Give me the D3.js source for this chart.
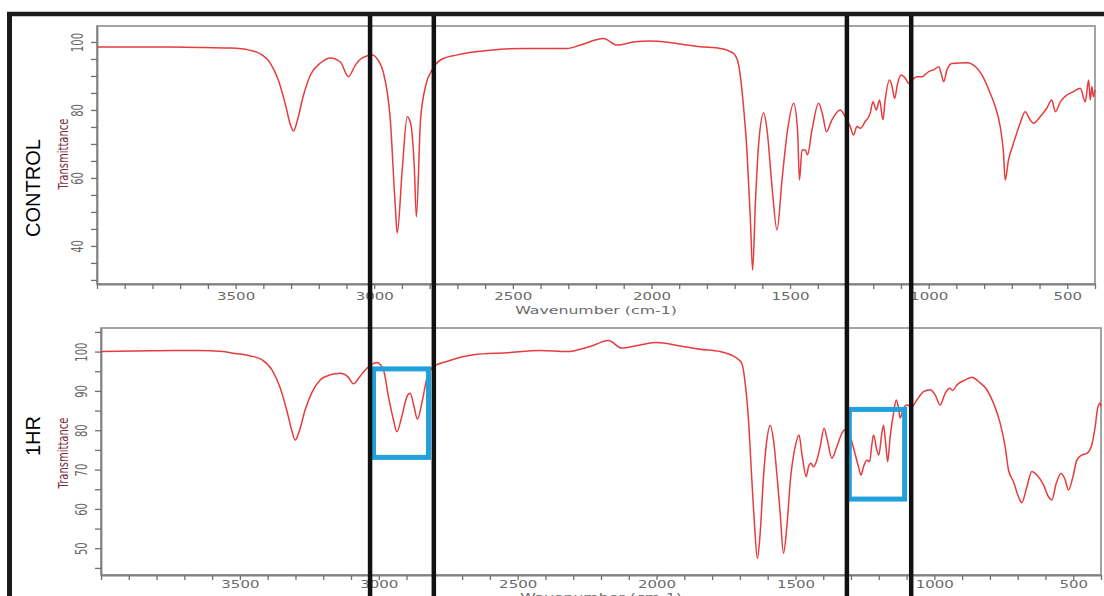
<!DOCTYPE html>
<html>
<head>
<meta charset="utf-8">
<script src="https://cdn.jsdelivr.net/npm/d3@7"></script>
<style>
  body { margin: 0; background: #fff; }
  svg { display: block; }
</style>
</head>
<body>
<div id="chart"></div>
<script>
// FTIR spectra: [wavenumber cm-1, % transmittance]
const controlSpectrum = [
  [4000,98.5],[3800,98.5],[3630,98.4],[3520,98.2],[3450,97.6],[3405,96.2],[3375,93.8],[3346,88.8],
  [3320,81.5],[3302,75.6],[3291,73.8],[3277,77],[3255,84.4],[3230,90.3],[3194,93.8],[3158,95.3],
  [3122,94.1],[3093,89.8],[3068,93.2],[3043,95.3],[3007,96.2],[2985,94.5],[2967,91],[2942,77.1],
  [2924,51.6],[2917,43.8],[2899,62.4],[2881,78],[2869,76.2],[2855,62.4],[2848,48.6],[2833,77],
  [2815,86.9],[2791,91.8],[2761,94.7],[2701,96.2],[2581,97.6],[2462,98.1],[2304,98.1],[2256,99.1],
  [2173,101],[2124,99.1],[2065,100],[2004,100.3],[1950,100],[1896,99.4],[1824,98.6],[1752,98.1],
  [1705,96.7],[1687,93.8],[1669,82],[1655,67.3],[1643,47.6],[1635,32.9],[1625,52.6],[1613,70.3],
  [1595,79.1],[1583,74.1],[1565,57.4],[1547,44.7],[1529,59.4],[1509,74.1],[1487,82],[1473,74.1],
  [1466,59.4],[1457,68.2],[1445,68.2],[1437,66.8],[1421,74.1],[1397,82],[1381,78],[1369,73.6],
  [1349,77.1],[1319,80],[1301,78],[1283,75.1],[1271,72.6],[1259,75.1],[1247,74.6],[1229,76.6],
  [1211,79],[1201,82.4],[1189,80],[1177,82.9],[1165,77.1],[1157,82.9],[1141,88.8],[1132,86.9],
  [1123,83.4],[1112,87.8],[1100,90.3],[1084,89.3],[1072,87.8],[1060,88.8],[1042,89.8],[1024,89.8],
  [1000,91.3],[982,91.8],[964,92.7],[955,90.8],[946,88.3],[934,91.8],[916,93.7],[862,93.9],
  [844,93.5],[808,90.3],[778,84.9],[760,81],[742,75.1],[730,67.3],[724,59.4],[712,65.3],
  [694,70.2],[670,76.1],[652,79.5],[634,77.1],[622,76.1],[598,78],[574,80.5],[556,82.9],
  [543,79.5],[525,82.4],[501,84.4],[477,85.4],[453,86.4],[435,82.4],[423,88.8],[417,82.9],
  [411,86.9],[406,83.9],[400,85.9]
];

const oneHrSpectrum = [
  [4000,100],[3800,100.2],[3650,100.3],[3560,100],[3535,99.7],[3463,98.9],[3420,97.9],[3384,95.3],
  [3355,90.8],[3330,84.7],[3312,79.6],[3301,77.5],[3287,79.6],[3265,85.2],[3240,89.7],[3211,92.8],
  [3175,94.1],[3139,94.5],[3110,93.5],[3091,91.8],[3070,93.5],[3049,95.3],[3007,97.2],[2983,95.3],
  [2965,88.5],[2947,82.6],[2935,79.6],[2917,83.5],[2899,88.5],[2887,89.4],[2873,86],[2861,82.8],
  [2845,86.9],[2827,93.2],[2803,96.2],[2755,97.5],[2659,99.2],[2539,99.7],[2419,100.3],[2323,100],
  [2239,101.3],[2173,102.8],[2125,100.9],[2059,101.7],[2000,102.3],[1920,101.5],[1843,100.6],[1771,100],
  [1711,98.3],[1693,97],[1681,92],[1669,82.6],[1657,67.4],[1647,55.5],[1637,47.4],[1627,53.8],
  [1615,68.2],[1603,77.5],[1591,81.3],[1579,77.5],[1567,69],[1555,58.9],[1543,48.7],[1531,55.5],
  [1517,68.2],[1501,75.8],[1487,78.8],[1477,74.1],[1461,68.2],[1453,70.7],[1444,71.6],[1435,70.7],
  [1423,72.4],[1411,75.8],[1397,80.5],[1385,77.5],[1369,72.9],[1351,75.8],[1333,79.2],[1321,80.1],
  [1303,78.4],[1289,75],[1273,70.7],[1264,68.6],[1255,70.7],[1243,72.4],[1233,72],[1225,76.3],
  [1219,78.8],[1207,75],[1200,73.7],[1189,79.2],[1183,81.3],[1174,75.8],[1168,72],[1159,78.4],
  [1147,84.3],[1137,87.7],[1129,85.6],[1123,83.1],[1113,85.2],[1099,86.4],[1081,86],[1063,87.7],
  [1039,89.8],[1015,90.3],[997,89],[979,86.4],[961,89.4],[945,90.7],[934,90.1],[919,91.5],
  [889,92.8],[865,93.5],[841,92.4],[811,90.3],[787,86.9],[763,81.8],[745,75.8],[733,69.9],
  [715,66.9],[697,63.1],[685,61.6],[667,65.6],[649,69.5],[631,68.6],[607,66.1],[589,63.1],
  [577,62.3],[561,66.5],[544,69],[529,67.4],[517,64.8],[501,68.2],[487,72.4],[469,73.7],
  [451,74.1],[433,76.3],[421,80.9],[412,85.6],[403,86.9],[400,86]
];

const panelNames = ["CONTROL", "1HR"];
const xAxisTitle = "Wavenumber (cm-1)";
const yAxisTitle = "Transmittance";
const xTickLabels = [3500, 3000, 2500, 2000, 1500, 1000, 500];
const controlYLabels = [40, 60, 80, 100];
const oneHrYLabels = [50, 60, 70, 80, 90, 100];

// regions marked on the figure
const markerLines = [3015, 2785, 1295, 1063];          // wavenumbers of the black guide lines
const boxWavenumbers = [[3019, 2821], [1306, 1107]];    // blue boxes on the 1HR spectrum
const boxTransmittance = [[95.6, 73.1], [85.3, 62.5]];

const width = 1104;
const height = 596;
const red = "#e63c3e";
const blue = "#22a0dc";
const font = "'DejaVu Sans', Verdana, sans-serif";

const svg = d3.select("#chart")
  .append("svg")
  .attr("width", width)
  .attr("height", height);

const panels = [
  { name: panelNames[0], data: controlSpectrum, left: 97, right: 1095, top: 26, bottom: 284,
    yDomain: [28.8, 104.7], yMinor: d3.range(30, 101, 5), yLabels: controlYLabels,
    titleY: 188, transY: 154, tickDy: 9, labelY: 26 },
  { name: panelNames[1], data: oneHrSpectrum, left: 101, right: 1101, top: 328, bottom: 575,
    yDomain: [43.2, 106], yMinor: d3.range(45, 106, 5), yLabels: oneHrYLabels,
    titleY: 436, transY: 453, tickDy: 6, labelY: 22 }
];

panels.forEach(p => {
  p.x = d3.scaleLinear().domain([4000, 400]).range([p.left, p.right]);
  p.y = d3.scaleLinear().domain(p.yDomain).range([p.bottom, p.top]);

  const g = svg.append("g");

  // plot frame
  g.append("rect")
    .attr("x", p.left).attr("y", p.top)
    .attr("width", p.right - p.left).attr("height", p.bottom - p.top)
    .attr("fill", "none")
    .attr("stroke", "#9a9a9a")
    .attr("stroke-width", 1.8);

  // x axis: tick every 100, labels every 500
  const xAxis = d3.axisBottom(p.x)
    .tickValues(d3.range(400, 4001, 100))
    .tickSize(5)
    .tickSizeOuter(0)
    .tickFormat(d => xTickLabels.includes(d) ? d : "");
  const gx = g.append("g")
    .attr("transform", `translate(0,${p.bottom})`)
    .call(xAxis);
  gx.select(".domain").attr("stroke", "#808080").attr("stroke-width", 1.8);
  gx.selectAll(".tick line").attr("stroke", "#707070").attr("stroke-width", 1.3);
  gx.selectAll(".tick text")
    .attr("y", p.tickDy)
    .attr("transform", "scale(1.5,1)")
    .attr("fill", "#6a6a6a")
    .style("font-family", font)
    .style("font-size", "10px");

  // y axis: tick every 5
  const yAxis = d3.axisLeft(p.y)
    .tickValues(p.yMinor)
    .tickSize(6)
    .tickSizeOuter(0)
    .tickFormat(d => p.yLabels.includes(d) ? d : "");
  const gy = g.append("g")
    .attr("transform", `translate(${p.left},0)`)
    .call(yAxis);
  gy.select(".domain").attr("stroke", "#808080").attr("stroke-width", 1.8);
  gy.selectAll(".tick line").attr("stroke", "#707070").attr("stroke-width", 1.3);
  gy.selectAll(".tick text")
    .attr("x", null)
    .attr("dy", null)
    .attr("transform", "translate(-19.5,0) scale(1.5,1) rotate(-90)")
    .attr("text-anchor", "middle")
    .attr("dominant-baseline", "central")
    .attr("fill", "#6a6a6a")
    .style("font-family", font)
    .style("font-size", "10px");

  // axis titles
  g.append("text")
    .attr("transform", `translate(${(p.left + p.right) / 2},${p.bottom + p.labelY}) scale(1.5,1)`)
    .attr("text-anchor", "middle")
    .attr("dominant-baseline", "central")
    .attr("fill", "#6a6a6a")
    .style("font-family", font)
    .style("font-size", "10.5px")
    .text(xAxisTitle);

  g.append("text")
    .attr("transform", `translate(63,${p.transY}) scale(1.4,1) rotate(-90)`)
    .attr("text-anchor", "middle")
    .attr("dominant-baseline", "central")
    .attr("fill", "#7a2a3c")
    .style("font-family", font)
    .style("font-size", "10px")
    .text(yAxisTitle);

  // panel name
  g.append("text")
    .attr("transform", `translate(33,${p.titleY}) rotate(-90)`)
    .attr("text-anchor", "middle")
    .attr("dominant-baseline", "central")
    .attr("fill", "#000")
    .style("font-family", "'Liberation Sans', Arial, sans-serif")
    .style("font-size", "20px")
    .text(p.name);

  // spectrum
  const line = d3.line()
    .x(d => p.x(d[0]))
    .y(d => p.y(d[1]))
    .curve(d3.curveMonotoneX);
  g.append("path")
    .datum(p.data)
    .attr("d", line)
    .attr("fill", "none")
    .attr("stroke", red)
    .attr("stroke-width", 1.5)
    .attr("stroke-linejoin", "round");
});

// blue boxes on the 1HR panel
const hrPanel = panels[1];
svg.append("g")
  .selectAll("rect")
  .data(boxWavenumbers.map((w, i) => ({ w, t: boxTransmittance[i] })))
  .join("rect")
  .attr("x", d => hrPanel.x(d.w[0]))
  .attr("y", d => hrPanel.y(d.t[0]))
  .attr("width", d => hrPanel.x(d.w[1]) - hrPanel.x(d.w[0]))
  .attr("height", d => hrPanel.y(d.t[1]) - hrPanel.y(d.t[0]))
  .attr("fill", "none")
  .attr("stroke", blue)
  .attr("stroke-width", 5);

// black guide lines through both panels
const controlPanel = panels[0];
svg.append("g")
  .selectAll("line")
  .data(markerLines)
  .join("line")
  .attr("x1", d => controlPanel.x(d)).attr("x2", d => controlPanel.x(d))
  .attr("y1", 12).attr("y2", height)
  .attr("stroke", "#111")
  .attr("stroke-width", 4.5);

// outer frame (top and left edges visible)
svg.append("line")
  .attr("x1", 7).attr("x2", width)
  .attr("y1", 14).attr("y2", 14)
  .attr("stroke", "#1a1a1a").attr("stroke-width", 4.5);
svg.append("line")
  .attr("x1", 9.5).attr("x2", 9.5)
  .attr("y1", 12).attr("y2", height)
  .attr("stroke", "#1a1a1a").attr("stroke-width", 5);
</script>
</body>
</html>
